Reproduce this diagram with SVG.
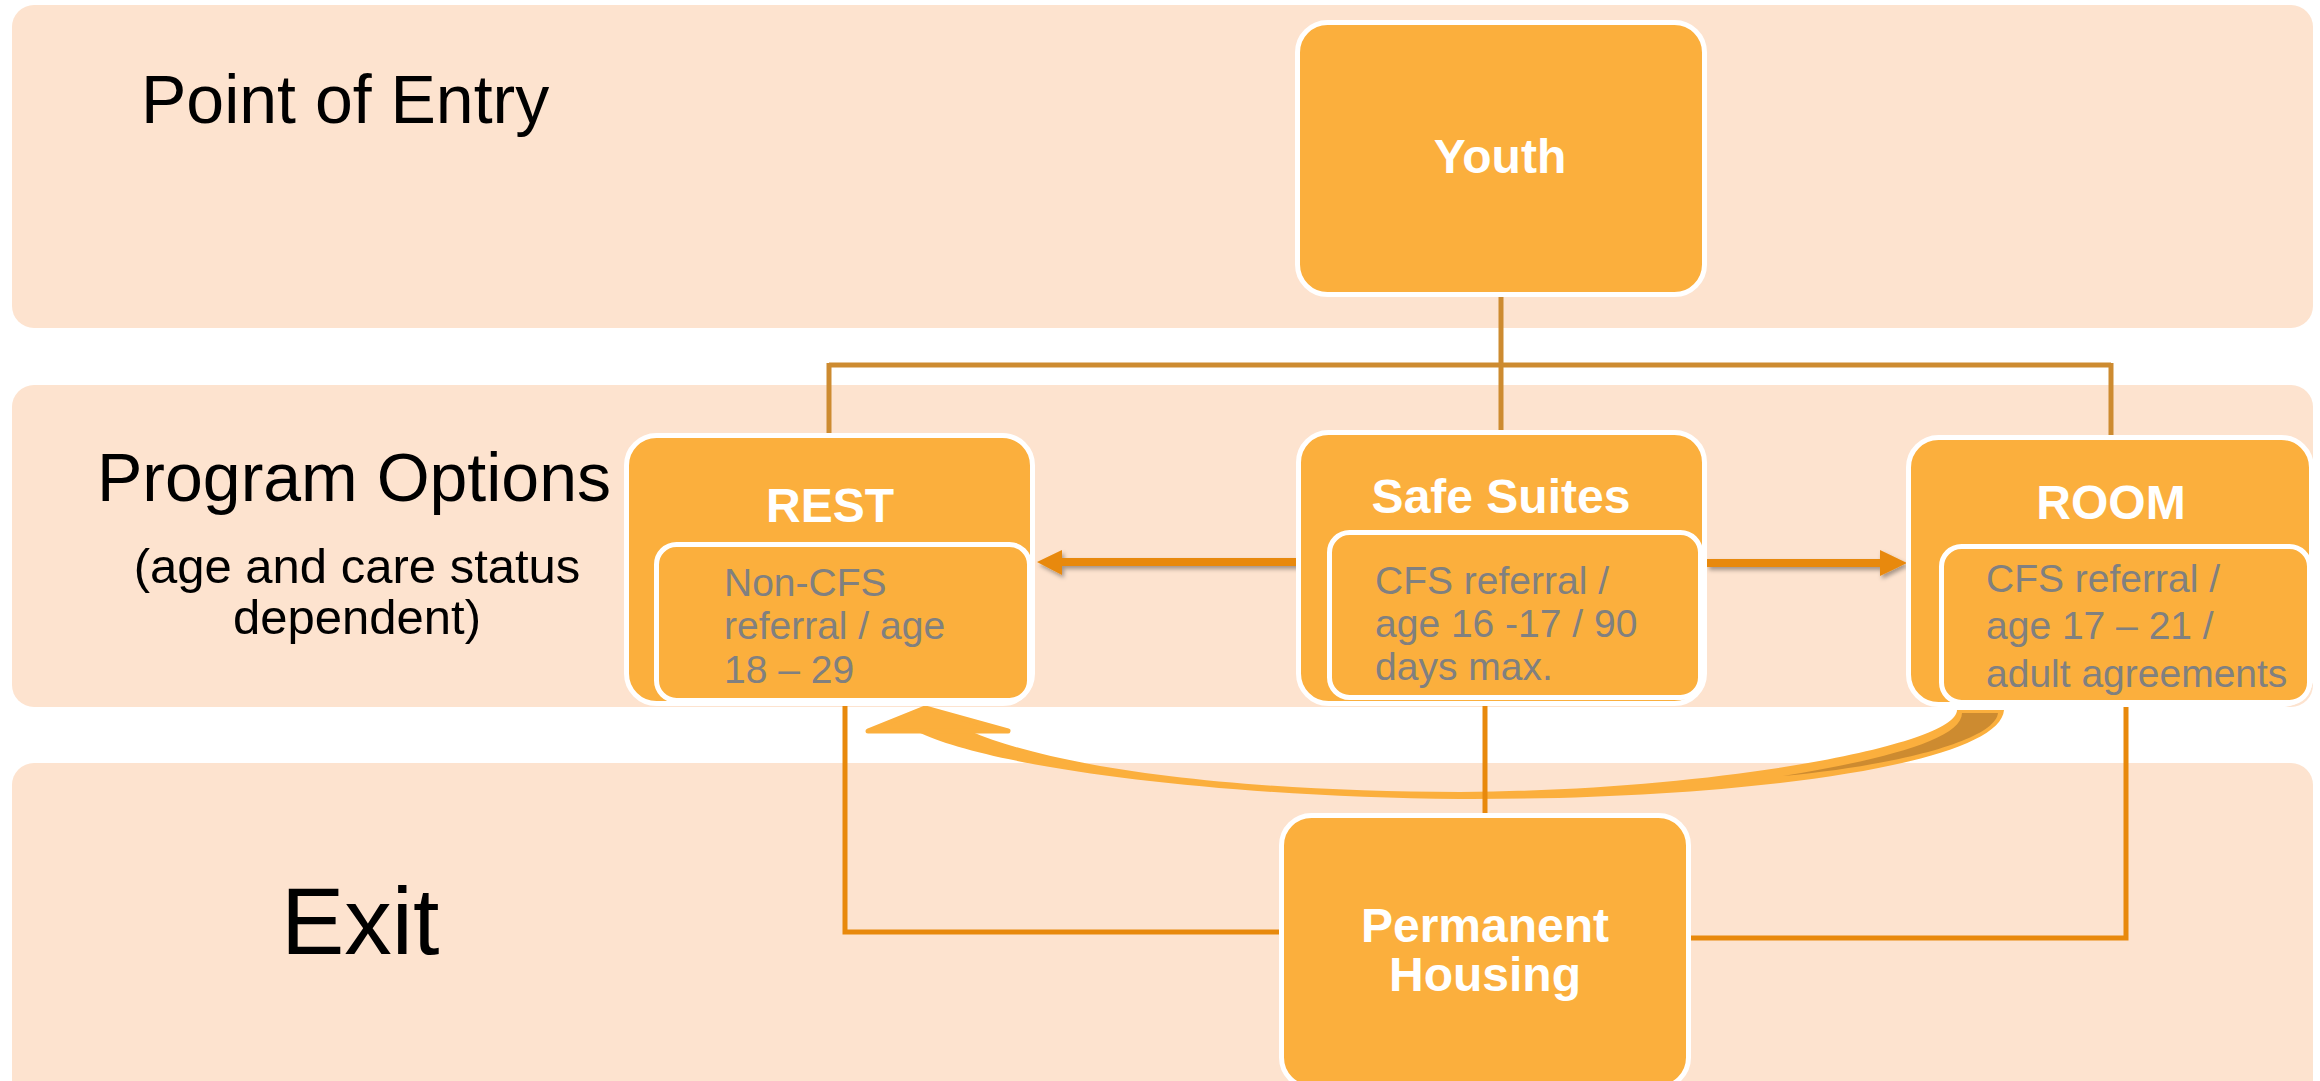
<svg xmlns="http://www.w3.org/2000/svg" width="2320" height="1081" viewBox="0 0 2320 1081">
<defs>
<style>
.band{fill:#FDE3CF}
.box{fill:#FBAF3D;stroke:#FFFFFF;stroke-width:5}
.title{font-family:"Liberation Sans",Arial,sans-serif;font-weight:bold;font-size:48px;fill:#FFFFFF;text-anchor:middle}
.detail{font-family:"Liberation Sans",Arial,sans-serif;font-size:39px;fill:#808080}
.label{font-family:"Liberation Sans",Arial,sans-serif;fill:#000000}
.top{fill:none;stroke:#CD8B30;stroke-width:5}
.bot{fill:none;stroke:#E8890C;stroke-width:5}
.harrow{fill:#E8890C;filter:url(#sh)}
.curve{fill:#FBAF3D}
.curvedark{fill:#CD8B30}
</style>
<filter id="sh" x="-10%" y="-50%" width="120%" height="200%">
<feDropShadow dx="2" dy="3" stdDeviation="2" flood-color="#000000" flood-opacity="0.35"/>
</filter>
</defs>
<rect width="2320" height="1081" fill="#FFFFFF"/>
<g id="bands">
<rect class="band" x="12" y="5" width="2301" height="323" rx="22"/>
<rect class="band" x="12" y="385" width="2301" height="322" rx="22"/>
<rect class="band" x="12" y="763" width="2301" height="350" rx="22"/>
</g>
<g id="labels">
<text class="label" x="141" y="123" font-size="68">Point of Entry</text>
<text class="label" x="97" y="501" font-size="68">Program Options</text>
<text class="label" x="357" y="583" font-size="49" text-anchor="middle">(age and care status</text>
<text class="label" x="357" y="634" font-size="49" text-anchor="middle">dependent)</text>
<text class="label" x="281" y="954" font-size="95">Exit</text>
</g>
<g id="connectors">
<path class="curve" d="M 916 731 C 990 768, 1220 797, 1460 799 C 1740 800, 2000 765, 2004 710 L 1957 710 C 1957 745, 1720 790, 1460 792 C 1250 792, 1060 770, 970 731 Z"/>
<path class="curvedark" d="M 1962 713 L 1998 713 C 1995 740, 1900 765, 1783 776 C 1880 760, 1962 740, 1962 713 Z"/>
<path class="curve" d="M 868 731 L 925 708 L 1008 731 Z" stroke="#FBAF3D" stroke-width="5" stroke-linejoin="round"/>
<path class="top" d="M 1501 296 V 433"/>
<path class="top" d="M 829 365 H 2111"/>
<path class="top" d="M 829 363 V 436"/>
<path class="top" d="M 2111 363 V 438"/>
<path class="bot" d="M 845 703 V 932 H 1282"/>
<path class="bot" d="M 1485 703 V 816"/>
<path class="bot" d="M 2126 703 V 938 H 1688"/>
<path class="harrow" d="M 1298 558 H 1062 V 550 L 1037 562 L 1062 575 V 566 H 1298 Z"/>
<path class="harrow" d="M 1707 559 H 1880 V 550 L 1907 563 L 1880 576 V 567 H 1707 Z"/>
</g>
<g id="node-youth">
<rect class="box" x="1297.5" y="22.5" width="407" height="272" rx="30"/>
<text class="title" x="1500" y="173">Youth</text>
</g>
<g id="node-rest">
<rect class="box" x="626.5" y="435.5" width="406" height="268" rx="30"/>
<rect class="box" x="656.5" y="544.5" width="373" height="156" rx="20"/>
<text class="title" x="830" y="522">REST</text>
<text class="detail" x="724" y="596">Non-CFS</text>
<text class="detail" x="724" y="639">referral / age</text>
<text class="detail" x="724" y="683">18 – 29</text>
</g>
<g id="node-safesuites">
<rect class="box" x="1298.5" y="432.5" width="406" height="271" rx="30"/>
<rect class="box" x="1329.5" y="532.5" width="371" height="165" rx="20"/>
<text class="title" x="1501" y="513">Safe Suites</text>
<text class="detail" x="1375" y="594">CFS referral /</text>
<text class="detail" x="1375" y="637">age 16 -17 / 90</text>
<text class="detail" x="1375" y="680">days max.</text>
</g>
<g id="node-room">
<rect class="box" x="1908.5" y="437.5" width="403" height="267" rx="30"/>
<rect class="box" x="1941.5" y="546.5" width="368" height="156" rx="20"/>
<text class="title" x="2111" y="519">ROOM</text>
<text class="detail" x="1986" y="592">CFS referral /</text>
<text class="detail" x="1986" y="639">age 17 – 21 /</text>
<text class="detail" x="1986" y="687">adult agreements</text>
</g>
<g id="node-permanent-housing">
<rect class="box" x="1281.5" y="815.5" width="407" height="272" rx="30"/>
<text class="title" x="1485" y="942">Permanent</text>
<text class="title" x="1485" y="991">Housing</text>
</g>
</svg>
